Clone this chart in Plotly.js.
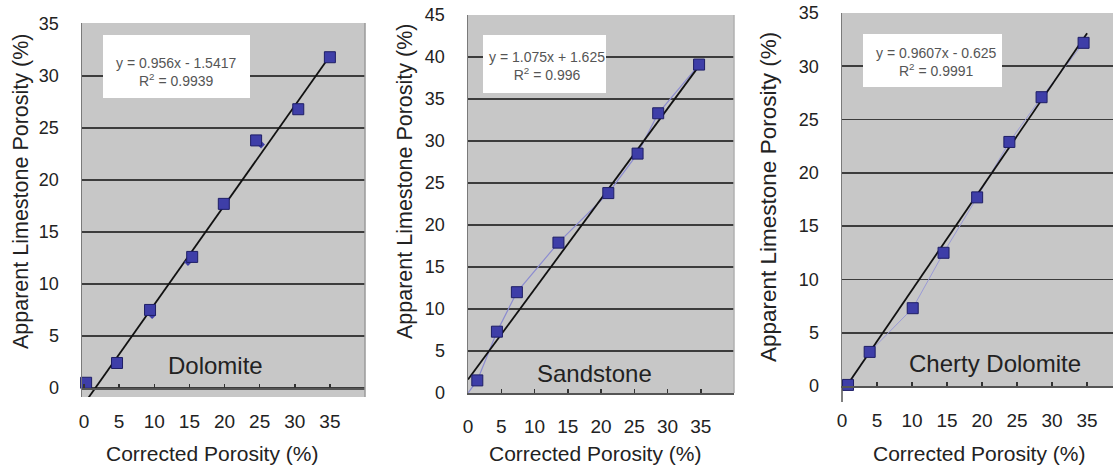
<!DOCTYPE html>
<html>
<head>
<meta charset="utf-8">
<script src="https://cdn.plot.ly/plotly-3.0.1.min.js"></script>
<style>html,body{margin:0;padding:0;background:#fff;}#chart{width:1113px;height:470px;}</style>
</head>
<body>
<div id="chart"></div>
<script>
// ---- Data ----
const dolX = [0.3, 4.7, 9.4, 15.4, 19.9, 24.5, 30.5, 35.0];
const dolY = [0.5, 2.4, 7.5, 12.6, 17.7, 23.8, 26.8, 31.8];
const dolDiamondX = [9.7, 14.8, 25.2];
const dolDiamondY = [7.0, 12.1, 23.4];
const dolTrendX = [0.6, 35.2];
const dolTrendY = [-0.97, 32.1];

const sandX = [1.4, 4.35, 7.35, 13.6, 21.1, 25.5, 28.6, 34.75];
const sandY = [1.5, 7.3, 12.0, 17.9, 23.8, 28.5, 33.3, 39.1];
const sandLineX = [0, 1.4, 4.35, 7.35, 13.6, 21.1, 25.5, 28.6, 34.75];
const sandLineY = [0, 1.5, 7.3, 12.0, 17.9, 23.8, 28.5, 33.3, 39.1];
const sandTrendX = [0, 34.8];
const sandTrendY = [1.6, 39.0];

const chertX = [0.86, 3.95, 10.1, 14.5, 19.3, 23.9, 28.5, 34.5];
const chertY = [0.1, 3.2, 7.3, 12.5, 17.7, 22.9, 27.1, 32.2];
const chertTrendX = [0.6, 35.0];
const chertTrendY = [-0.05, 33.1];

const xTicks = [0, 5, 10, 15, 20, 25, 30, 35];
const yTicks35 = [0, 5, 10, 15, 20, 25, 30, 35];
const yTicks45 = [0, 5, 10, 15, 20, 25, 30, 35, 40, 45];

const panelNames = ['Dolomite', 'Sandstone', 'Cherty Dolomite'];
const equations = ['y = 0.956x - 1.5417<br>R<sup>2</sup> = 0.9939',
                   'y = 1.075x + 1.625<br>R<sup>2</sup> = 0.996',
                   'y = 0.9607x - 0.625<br>R<sup>2</sup> = 0.9991'];
const xTitle = 'Corrected Porosity (%)';
const yTitle = 'Apparent Limestone Porosity (%)';

// ---- Styling ----
const W = 1113, H = 470;
const FONT = 'Liberation Sans, Arial, sans-serif';
const markerStyle = {symbol: 'square', size: 11, color: '#3e3ea8', line: {color: '#1e1e66', width: 1}};
const px = v => v / W;
const py = v => 1 - v / H;

function mk(x, y, xa, ya) {
  return {x: x, y: y, xaxis: xa, yaxis: ya, type: 'scatter', mode: 'markers',
          marker: markerStyle, cliponaxis: false, showlegend: false, hoverinfo: 'x+y'};
}
function ln(x, y, xa, ya, color, width) {
  return {x: x, y: y, xaxis: xa, yaxis: ya, type: 'scatter', mode: 'lines',
          line: {color: color, width: width}, showlegend: false, hoverinfo: 'skip'};
}

const traces = [
  ln(sandLineX, sandLineY, 'x2', 'y2', '#8c8cd0', 1.2),
  ln(chertX, chertY, 'x3', 'y3', '#9a9ad6', 1.0),
  ln(dolTrendX, dolTrendY, 'x', 'y', '#111', 1.8),
  ln(sandTrendX, sandTrendY, 'x2', 'y2', '#111', 1.8),
  ln(chertTrendX, chertTrendY, 'x3', 'y3', '#111', 1.8),
  {x: dolDiamondX, y: dolDiamondY, xaxis: 'x', yaxis: 'y', type: 'scatter', mode: 'markers',
   marker: {symbol: 'diamond', size: 6, color: '#3e3ea8'}, showlegend: false, hoverinfo: 'skip'},
  mk(dolX, dolY, 'x', 'y'),
  mk(sandX, sandY, 'x2', 'y2'),
  mk(chertX, chertY, 'x3', 'y3')
];

function xaxisDef(domain, range, extra) {
  return Object.assign({
    domain: domain, range: range, tickvals: xTicks, ticktext: xTicks.map(String),
    showgrid: false, zeroline: false, showline: true, linecolor: '#555', linewidth: 1.5,
    ticks: 'inside', ticklen: 4, tickcolor: '#333', tickwidth: 1.5,
    tickfont: {family: FONT, size: 19, color: '#222'}, ticklabelstandoff: 16,
    fixedrange: true
  }, extra || {});
}
function yaxisDef(domain, range, ticks, extra) {
  return Object.assign({
    domain: domain, range: range, tickvals: ticks, ticktext: ticks.map(String),
    showgrid: true, gridcolor: '#3c3c3c', gridwidth: 1.6, zeroline: false,
    showline: true, linecolor: '#7a7a7a', linewidth: 1.5,
    ticks: '', tickfont: {family: FONT, size: 18, color: '#222'}, ticklabelstandoff: 18,
    fixedrange: true
  }, extra || {});
}

const layout = {
  width: W, height: H,
  margin: {l: 0, r: 0, t: 0, b: 0},
  paper_bgcolor: '#ffffff',
  plot_bgcolor: '#c7c7c7',
  showlegend: false,
  xaxis: xaxisDef([px(82), px(365)], [-0.285, 40], {anchor: 'free', position: py(388), ticklabelstandoff: 16}),
  yaxis: yaxisDef([py(397), py(23)], [-0.87, 35.09], yTicks35, {anchor: 'x'}),
  xaxis2: xaxisDef([px(468), px(734)], [0, 40], {anchor: 'y2', ticklabelstandoff: 16}),
  yaxis2: yaxisDef([py(393), py(15)], [0, 45], yTicks45, {anchor: 'x2'}),
  xaxis3: xaxisDef([px(842), 1], [0, 38.7], {anchor: 'y3', ticklabelstandoff: 17}),
  yaxis3: yaxisDef([py(386), py(13)], [0, 35], yTicks35, {anchor: 'x3'}),
  shapes: [
    // plot right borders
    {type: 'line', xref: 'paper', yref: 'paper', x0: px(365), x1: px(365), y0: py(397), y1: py(23), line: {color: '#9a9a9a', width: 1.5}},
    {type: 'line', xref: 'paper', yref: 'paper', x0: px(734), x1: px(734), y0: py(393), y1: py(15), line: {color: '#b0b0b0', width: 1.5}},
    // cherty panel: vertical axis line continues below the zero line
    {type: 'line', xref: 'paper', yref: 'paper', x0: px(842), x1: px(842), y0: py(402), y1: py(386), line: {color: '#555', width: 1.5}},
    // equation boxes
    {type: 'rect', xref: 'paper', yref: 'paper', x0: px(103), x1: px(250), y0: py(98), y1: py(35), fillcolor: '#ffffff', line: {width: 0}, layer: 'above'},
    {type: 'rect', xref: 'paper', yref: 'paper', x0: px(483), x1: px(606), y0: py(93), y1: py(35), fillcolor: '#ffffff', line: {width: 0}, layer: 'above'},
    {type: 'rect', xref: 'paper', yref: 'paper', x0: px(863), x1: px(1002), y0: py(87), y1: py(34), fillcolor: '#ffffff', line: {width: 0}, layer: 'above'}
  ],
  annotations: [
    {xref: 'paper', yref: 'paper', x: px(176), y: py(72), text: equations[0], showarrow: false, font: {family: FONT, size: 14, color: '#555'}, xanchor: 'center', yanchor: 'middle'},
    {xref: 'paper', yref: 'paper', x: px(547), y: py(66), text: equations[1], showarrow: false, font: {family: FONT, size: 14, color: '#555'}, xanchor: 'center', yanchor: 'middle'},
    {xref: 'paper', yref: 'paper', x: px(936), y: py(62), text: equations[2], showarrow: false, font: {family: FONT, size: 14, color: '#555'}, xanchor: 'center', yanchor: 'middle'},
    {xref: 'paper', yref: 'paper', x: px(215), y: py(365), text: panelNames[0], showarrow: false, font: {family: FONT, size: 24, color: '#222'}, xanchor: 'center', yanchor: 'middle'},
    {xref: 'paper', yref: 'paper', x: px(594), y: py(373), text: panelNames[1], showarrow: false, font: {family: FONT, size: 24, color: '#222'}, xanchor: 'center', yanchor: 'middle'},
    {xref: 'paper', yref: 'paper', x: px(995), y: py(363), text: panelNames[2], showarrow: false, font: {family: FONT, size: 24, color: '#222'}, xanchor: 'center', yanchor: 'middle'},
    {xref: 'paper', yref: 'paper', x: px(212), y: py(453), text: xTitle, showarrow: false, font: {family: FONT, size: 21, color: '#222'}, xanchor: 'center', yanchor: 'middle'},
    {xref: 'paper', yref: 'paper', x: px(595), y: py(453), text: xTitle, showarrow: false, font: {family: FONT, size: 21, color: '#222'}, xanchor: 'center', yanchor: 'middle'},
    {xref: 'paper', yref: 'paper', x: px(979), y: py(453), text: xTitle, showarrow: false, font: {family: FONT, size: 21, color: '#222'}, xanchor: 'center', yanchor: 'middle'},
    {xref: 'paper', yref: 'paper', x: px(21), y: py(192), text: yTitle, textangle: -90, showarrow: false, font: {family: FONT, size: 21.5, color: '#222'}, xanchor: 'center', yanchor: 'middle'},
    {xref: 'paper', yref: 'paper', x: px(405), y: py(182), text: yTitle, textangle: -90, showarrow: false, font: {family: FONT, size: 21.5, color: '#222'}, xanchor: 'center', yanchor: 'middle'},
    {xref: 'paper', yref: 'paper', x: px(768), y: py(197), text: yTitle, textangle: -90, showarrow: false, font: {family: FONT, size: 22.5, color: '#222'}, xanchor: 'center', yanchor: 'middle'}
  ]
};

Plotly.newPlot('chart', traces, layout, {displayModeBar: false, staticPlot: true});
</script>
</body>
</html>
